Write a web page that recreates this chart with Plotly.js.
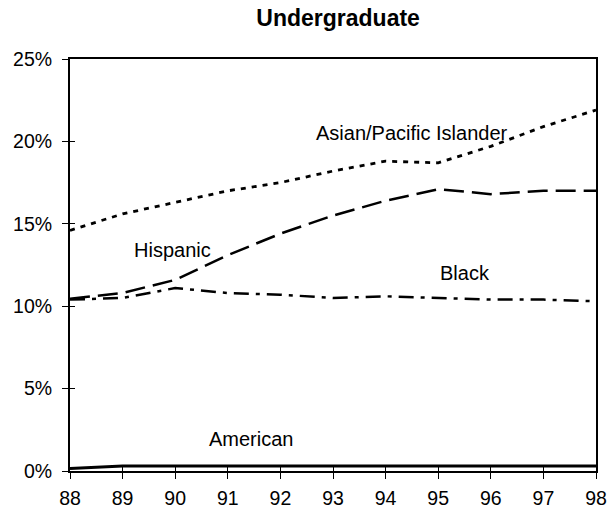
<!DOCTYPE html>
<html>
<head>
<meta charset="utf-8">
<script src="https://cdn.plot.ly/plotly-3.0.1.min.js"></script>
<style>html,body{margin:0;padding:0;background:#fff;}#chart{width:607px;height:515px;}</style>
</head>
<body>
<div id="chart"></div>
<script>
const years = [88, 89, 90, 91, 92, 93, 94, 95, 96, 97, 98];
const asian    = [14.6, 15.6, 16.3, 17.0, 17.5, 18.2, 18.8, 18.7, 19.7, 20.9, 21.9];
const hispanic = [10.45, 10.8, 11.6, 13.1, 14.4, 15.5, 16.4, 17.1, 16.8, 17.0, 17.0];
const black    = [10.4, 10.5, 11.1, 10.8, 10.7, 10.5, 10.6, 10.5, 10.4, 10.4, 10.3];
const american = [0.15, 0.3, 0.3, 0.3, 0.3, 0.3, 0.3, 0.3, 0.3, 0.3, 0.3];
const yTicks = [0, 5, 10, 15, 20, 25];
const yTickText = ['0%', '5%', '10%', '15%', '20%', '25%'];
const labels = [
  {text: 'Asian/Pacific Islander', x: 94.5, y: 20.5},
  {text: 'Hispanic', x: 89.95, y: 13.4},
  {text: 'Black', x: 95.5, y: 12.0},
  {text: 'American', x: 91.45, y: 1.95}
];

const FONT = 'Arial, "Liberation Sans", sans-serif';
function tr(y, dash, w) {
  return {x: years, y: y, type: 'scatter', mode: 'lines',
          line: {color: '#000', width: w || 2.5, dash: dash}, hoverinfo: 'skip'};
}
const data = [
  tr(asian, '5px,6px', 2.8),
  tr(hispanic, '20px,8px'),
  tr(black, '15px,7px,4px,7px'),
  tr(american, 'solid', 3)
];
const layout = {
  width: 607, height: 515,
  margin: {l: 70, r: 11, t: 59, b: 44},
  paper_bgcolor: '#fff', plot_bgcolor: '#fff',
  showlegend: false,
  font: {family: FONT, size: 20, color: '#000'},
  title: {text: '<b>Undergraduate</b>', font: {family: FONT, size: 23, color: '#000'},
          x: 0.557, xref: 'container', xanchor: 'center', y: 0.966, yref: 'container', yanchor: 'middle'},
  xaxis: {range: [88, 98], tickvals: years, ticktext: years.map(String),
          showgrid: false, zeroline: false, showline: true, linecolor: '#000', linewidth: 2,
          mirror: true, ticks: 'outside', ticklen: 6, tickwidth: 1, tickcolor: '#000',
          ticklabelstandoff: 3, ticklabeloverflow: 'allow',
          tickfont: {family: FONT, size: 19.5, color: '#000'}, fixedrange: true},
  yaxis: {range: [0, 25], tickvals: yTicks, ticktext: yTickText,
          showgrid: false, zeroline: false, showline: true, linecolor: '#000', linewidth: 2,
          mirror: true, ticks: 'outside', ticklen: 6, tickwidth: 1, tickcolor: '#000',
          ticklabelstandoff: 6, ticklabeloverflow: 'allow',
          tickfont: {family: FONT, size: 19.5, color: '#000'}, fixedrange: true},
  xaxis2: {range: [88, 98], tickvals: years, overlaying: 'x', showticklabels: false,
           ticks: 'inside', ticklen: 5, tickwidth: 1, tickcolor: '#000', showgrid: false,
           zeroline: false, showline: false, anchor: 'y'},
  yaxis2: {range: [0, 25], tickvals: yTicks, overlaying: 'y', showticklabels: false,
           ticks: 'inside', ticklen: 5, tickwidth: 1, tickcolor: '#000', showgrid: false,
           zeroline: false, showline: false, anchor: 'x'},
  annotations: labels.map(l => ({text: l.text, x: l.x, y: l.y, xref: 'x', yref: 'y',
    showarrow: false, xanchor: 'center', yanchor: 'middle',
    font: {family: FONT, size: 20, color: '#000'}}))
};
data.push({x: [88], y: [0], xaxis: 'x2', yaxis: 'y2', type: 'scatter', mode: 'markers',
           marker: {opacity: 0}, hoverinfo: 'skip'});
Plotly.newPlot('chart', data, layout, {displayModeBar: false, staticPlot: true});
</script>
</body>
</html>
